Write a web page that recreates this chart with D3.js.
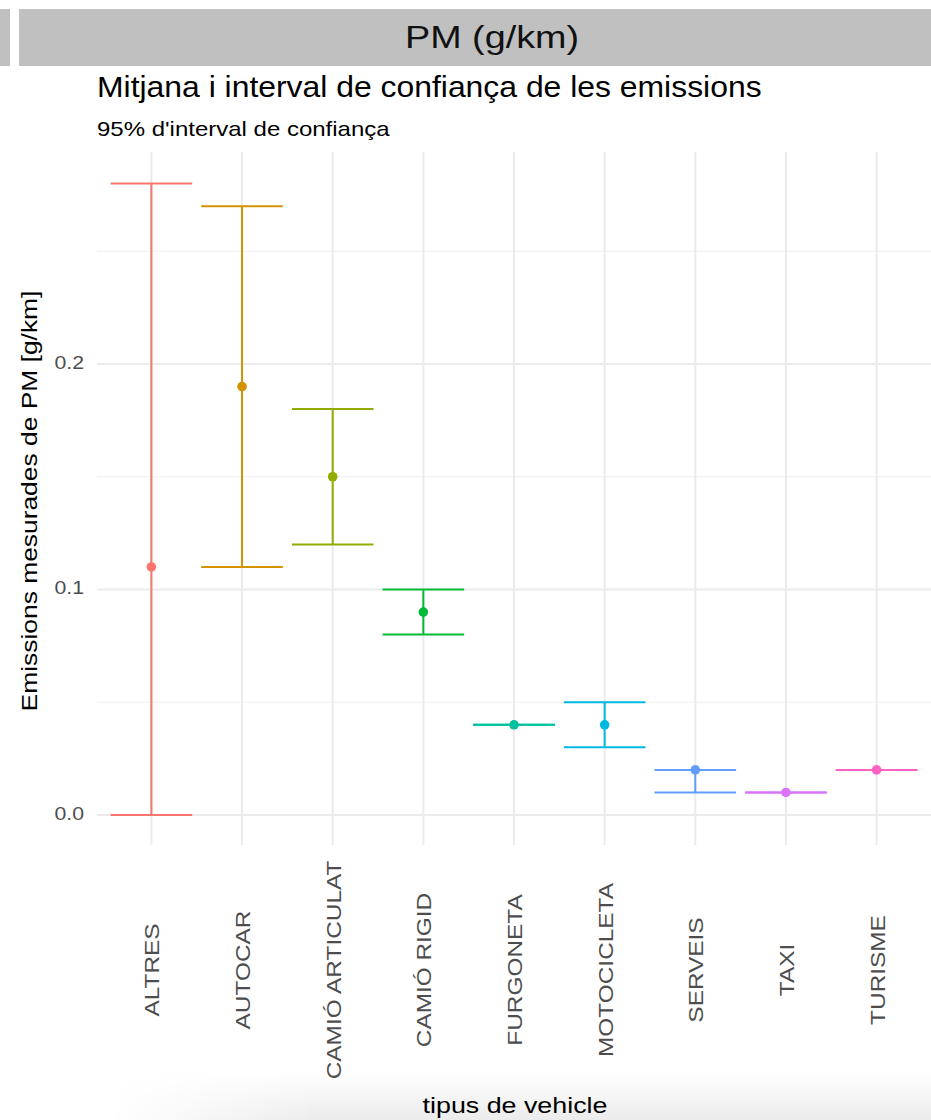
<!DOCTYPE html>
<html>
<head>
<meta charset="utf-8">
<script src="https://cdn.jsdelivr.net/npm/d3@7"></script>
<style>
  html, body { margin: 0; padding: 0; background: #fff; }
  svg { display: block; font-family: "Liberation Sans", Arial, sans-serif; }
</style>
</head>
<body>
<svg id="chart" width="931" height="1120"></svg>
<script>
const categories = ["ALTRES", "AUTOCAR", "CAMIÓ ARTICULAT", "CAMIÓ RIGID", "FURGONETA", "MOTOCICLETA", "SERVEIS", "TAXI", "TURISME"];
const means = [0.11, 0.19, 0.15, 0.09, 0.04, 0.04, 0.02, 0.01, 0.02];
const lower = [0.00, 0.11, 0.12, 0.08, 0.04, 0.03, 0.01, 0.01, 0.02];
const upper = [0.28, 0.27, 0.18, 0.10, 0.04, 0.05, 0.02, 0.01, 0.02];
const colors = ["#F8766D", "#D39200", "#93AA00", "#00BA38", "#00C19F", "#00B9E3", "#619CFF", "#DB72FB", "#FF61C3"];
const yTicks = [0.0, 0.1, 0.2];
const yMinor = [0.05, 0.15, 0.25];

const data = categories.map((c, i) => ({ cat: c, mean: means[i], lo: lower[i], hi: upper[i], color: colors[i] }));

const svg = d3.select("#chart");
const FONT = "'Liberation Sans', Arial, sans-serif";

// Bottom shadow
const defs = svg.append("defs");
const vg = defs.append("linearGradient").attr("id", "vshade").attr("x1", 0).attr("y1", 0).attr("x2", 0).attr("y2", 1);
vg.append("stop").attr("offset", 0).attr("stop-color", "#000").attr("stop-opacity", 0);
vg.append("stop").attr("offset", 1).attr("stop-color", "#000").attr("stop-opacity", 0.075);
const hg = defs.append("linearGradient").attr("id", "hmaskg").attr("x1", 0).attr("y1", 0).attr("x2", 1).attr("y2", 0);
hg.append("stop").attr("offset", 0).attr("stop-color", "#fff").attr("stop-opacity", 0);
hg.append("stop").attr("offset", 0.25).attr("stop-color", "#fff").attr("stop-opacity", 1);
hg.append("stop").attr("offset", 1).attr("stop-color", "#fff").attr("stop-opacity", 1);
const mask = defs.append("mask").attr("id", "hmask");
mask.append("rect").attr("x", 110).attr("y", 1070).attr("width", 821).attr("height", 50).attr("fill", "url(#hmaskg)");
svg.append("rect").attr("x", 110).attr("y", 1072).attr("width", 821).attr("height", 48)
  .attr("fill", "url(#vshade)").attr("mask", "url(#hmask)");

// Header strip
svg.append("rect").attr("x", 0).attr("y", 9).attr("width", 10).attr("height", 57).attr("fill", "#C0C0C0");
svg.append("rect").attr("x", 19).attr("y", 9).attr("width", 912).attr("height", 57).attr("fill", "#C0C0C0");
svg.append("text").attr("transform", "translate(492,48) scale(1.18,1)").attr("text-anchor", "middle")
  .attr("font-size", 32).attr("fill", "#111").text("PM (g/km)");

// Titles
svg.append("text").attr("transform", "translate(97,97) scale(1.1,1)").attr("font-size", 29).attr("fill", "#000")
  .text("Mitjana i interval de confiança de les emissions");
svg.append("text").attr("transform", "translate(97,136) scale(1.2,1)").attr("font-size", 20).attr("fill", "#000")
  .text("95% d'interval de confiança");

// Panel
const panel = { left: 97, right: 931, top: 152, bottom: 845 };

const x = d3.scalePoint().domain(categories)
  .range([panel.left, panel.right]).padding(0.6);
const step = x.step();

const y = d3.scaleLinear().domain([0, 0.1]).range([815, 589.5]);

// Grid
const g = svg.append("g");
g.selectAll("line.minor").data(yMinor).join("line")
  .attr("x1", panel.left).attr("x2", panel.right)
  .attr("y1", d => y(d)).attr("y2", d => y(d))
  .attr("stroke", "#EFEFEF").attr("stroke-width", 1.2);
g.selectAll("line.major").data(yTicks).join("line")
  .attr("x1", panel.left).attr("x2", panel.right)
  .attr("y1", d => y(d)).attr("y2", d => y(d))
  .attr("stroke", "#EBEBEB").attr("stroke-width", 2);
g.selectAll("line.vx").data(categories).join("line")
  .attr("x1", d => x(d)).attr("x2", d => x(d))
  .attr("y1", panel.top).attr("y2", panel.bottom)
  .attr("stroke", "#EBEBEB").attr("stroke-width", 2);

// Y axis
const yAxis = d3.axisLeft(y).tickValues(yTicks).tickFormat(d3.format(".1f")).tickSize(0).tickPadding(0);
const ya = svg.append("g").attr("transform", `translate(84,0)`).call(yAxis);
ya.select(".domain").remove();
ya.selectAll("text").attr("x", 0).attr("dy", "0.22em")
  .attr("transform", "scale(1.12,1)")
  .attr("font-size", 19).attr("fill", "#4D4D4D").attr("font-family", FONT);

// X axis
const xAxis = d3.axisBottom(x).tickSize(0).tickPadding(0);
const xa = svg.append("g").call(xAxis);
xa.select(".domain").remove();
xa.selectAll(".tick").attr("transform", d => `translate(${x(d) + 1},970)`);
xa.selectAll("text")
  .attr("transform", "rotate(-90) scale(1.22,1)")
  .attr("x", 0).attr("y", 0).attr("dy", "0.35em")
  .attr("text-anchor", "middle")
  .attr("font-size", 20).attr("fill", "#4D4D4D").attr("font-family", FONT);

// Axis titles
svg.append("text").attr("transform", "translate(37,501) rotate(-90) scale(1.2,1)")
  .attr("text-anchor", "middle").attr("font-size", 22).attr("fill", "#000")
  .text("Emissions mesurades de PM [g/km]");
svg.append("text").attr("transform", "translate(515,1113) scale(1.22,1)").attr("text-anchor", "middle")
  .attr("font-size", 22).attr("fill", "#000").text("tipus de vehicle");

// Error bars
const hw = step * 0.45;
const eb = svg.append("g").selectAll("g").data(data).join("g")
  .attr("stroke", d => d.color).attr("stroke-width", 2).attr("fill", "none");
eb.append("line")
  .attr("x1", d => x(d.cat)).attr("x2", d => x(d.cat))
  .attr("y1", d => y(d.lo)).attr("y2", d => y(d.hi));
eb.append("line")
  .attr("x1", d => x(d.cat) - hw).attr("x2", d => x(d.cat) + hw)
  .attr("y1", d => y(d.hi)).attr("y2", d => y(d.hi));
eb.append("line")
  .attr("x1", d => x(d.cat) - hw).attr("x2", d => x(d.cat) + hw)
  .attr("y1", d => y(d.lo)).attr("y2", d => y(d.lo));

// Points
svg.append("g").selectAll("circle").data(data).join("circle")
  .attr("cx", d => x(d.cat)).attr("cy", d => y(d.mean))
  .attr("r", 4.8).attr("fill", d => d.color);
</script>
</body>
</html>
